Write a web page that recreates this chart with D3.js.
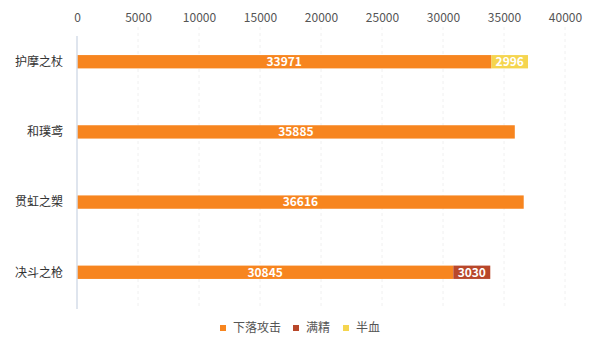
<!DOCTYPE html>
<html>
<head>
<meta charset="utf-8">
<script src="https://cdn.jsdelivr.net/npm/d3@7"></script>
<style>
  body { margin: 0; background: #fff; }
  text { font-family: "Noto Sans CJK SC", "Noto Sans", sans-serif; }
</style>
</head>
<body>
<div id="chart"></div>
<script>
const categories = ['护摩之杖', '和璞鸢', '贯虹之槊', '决斗之枪']
const seriesNames = ['下落攻击', '满精', '半血']
const fallAttack = [33971, 35885, 36616, 30845]
const fullEnergy = [0, 0, 0, 3030]
const halfHp = [2996, 0, 0, 0]
const xTicks = [0, 5000, 10000, 15000, 20000, 25000, 30000, 35000, 40000]
const colors = ['#f7851f', '#b8472a', '#f5d54f']

const width = 600
const height = 351
const margin = { top: 27, left: 77, right: 35, bottom: 44 }

const svg = d3.select('#chart')
  .append('svg')
  .attr('width', width)
  .attr('height', height)

const x = d3.scaleLinear()
  .domain([0, 40000])
  .range([margin.left, width - margin.right])

const y = d3.scaleBand()
  .domain(categories)
  .range([margin.top, height - margin.bottom])
  .paddingInner(0.81)
  .paddingOuter(0.4)

// grid
svg.append('g')
  .selectAll('line')
  .data(xTicks.slice(1))
  .enter()
  .append('line')
  .attr('x1', d => x(d))
  .attr('x2', d => x(d))
  .attr('y1', margin.top)
  .attr('y2', height - margin.bottom)
  .attr('stroke', '#f0f0f0')
  .attr('stroke-dasharray', '3,3')

// top axis labels
svg.append('g')
  .attr('transform', `translate(0, 18)`)
  .call(d3.axisTop(x).tickValues(xTicks).tickSize(0).tickFormat(d3.format('d')))
  .call(g => g.select('.domain').remove())
  .call(g => g.selectAll('text')
    .attr('fill', '#555')
    .attr('font-size', 12)
    .attr('dy', '0.35em')
    .attr('y', 0))

// stacked data
const table = categories.map((c, i) => ({
  cat: c,
  [seriesNames[0]]: fallAttack[i],
  [seriesNames[1]]: fullEnergy[i],
  [seriesNames[2]]: halfHp[i]
}))
const stacked = d3.stack().keys(seriesNames)(table)

const layers = svg.append('g')
  .selectAll('g')
  .data(stacked)
  .enter()
  .append('g')
  .attr('fill', (d, i) => colors[i])

layers.selectAll('rect')
  .data(d => d)
  .enter()
  .append('rect')
  .attr('x', d => x(d[0]))
  .attr('y', d => y(d.data.cat))
  .attr('width', d => x(d[1]) - x(d[0]))
  .attr('height', y.bandwidth())

layers.selectAll('text')
  .data(d => d.filter(p => p[1] - p[0] > 0))
  .enter()
  .append('text')
  .attr('x', d => (x(d[0]) + x(d[1])) / 2)
  .attr('y', d => y(d.data.cat) + y.bandwidth() / 2)
  .attr('dy', '0.36em')
  .attr('text-anchor', 'middle')
  .attr('fill', '#fff')
  .attr('font-size', 12)
  .attr('font-weight', 'bold')
  .text(d => d[1] - d[0])

// y axis
svg.append('line')
  .attr('x1', x(0))
  .attr('x2', x(0))
  .attr('y1', margin.top + 9)
  .attr('y2', height - margin.bottom + 2)
  .attr('stroke', '#d5dde8')
  .attr('stroke-width', 1.5)

svg.append('g')
  .selectAll('text')
  .data(categories)
  .enter()
  .append('text')
  .attr('x', x(0) - 14)
  .attr('y', d => y(d) + y.bandwidth() / 2)
  .attr('dy', '0.36em')
  .attr('text-anchor', 'end')
  .attr('fill', '#333')
  .attr('font-size', 12)
  .text(d => d)

// legend
const legendX = [220, 293, 343]
const legend = svg.append('g')
  .selectAll('g')
  .data(seriesNames)
  .enter()
  .append('g')
  .attr('transform', (d, i) => `translate(${legendX[i]}, 328)`)
legend.append('rect')
  .attr('x', 0)
  .attr('y', -3)
  .attr('width', 6)
  .attr('height', 6)
  .attr('fill', (d, i) => colors[i])
legend.append('text')
  .attr('x', 13)
  .attr('y', 0)
  .attr('dy', '0.36em')
  .attr('fill', '#555')
  .attr('font-size', 12)
  .text(d => d)
</script>
</body>
</html>
